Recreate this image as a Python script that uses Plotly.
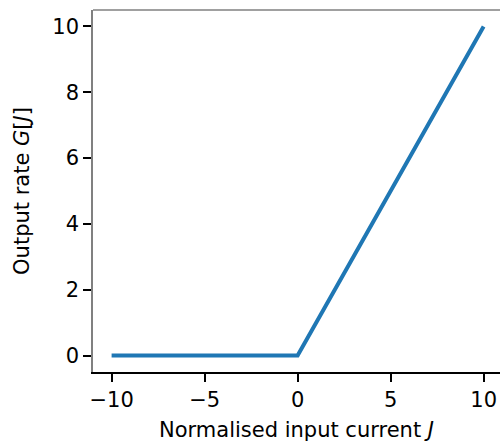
import plotly.graph_objects as go

J = [-10, 0, 10]
G = [0, 0, 10]
x_ticks = [-10, -5, 0, 5, 10]
y_ticks = [0, 2, 4, 6, 8, 10]

font = "DejaVu Sans"
fig = go.Figure()
fig.add_trace(go.Scatter(x=J, y=G, mode="lines",
                         line=dict(color="#1f77b4", width=4), showlegend=False))
fig.update_layout(
    width=500, height=447,
    margin=dict(l=93, r=0, t=10, b=75),
    plot_bgcolor="white", paper_bgcolor="white",
    font=dict(family=font, size=21, color="black"),
    xaxis=dict(range=[-11, 10.88], tickvals=x_ticks, showgrid=False, zeroline=False,
               showline=True, linecolor="black", linewidth=1.5,
               ticks="outside", ticklen=8, tickwidth=1.5, tickcolor="black",
               tickfont=dict(family=font, size=21, color="black"),
               title=dict(text="Normalised input current <i>J</i>", standoff=11,
                          font=dict(family=font, size=21, color="black"))),
    yaxis=dict(range=[-0.5, 10.5], tickvals=y_ticks, showgrid=False, zeroline=False,
               showline=True, linecolor="#808080", linewidth=1.5,
               ticks="outside", ticklen=8, tickwidth=1.5, tickcolor="black",
               tickfont=dict(family=font, size=21, color="black"),
               title=dict(text="Output rate <i>G</i>[<i>J</i>]", standoff=17,
                          font=dict(family=font, size=21, color="black"))),
)
fig.add_shape(type="line", xref="paper", yref="paper", x0=0, x1=1, y0=1, y1=1,
              line=dict(color="#808080", width=1.5))
fig.write_html("out.html")
